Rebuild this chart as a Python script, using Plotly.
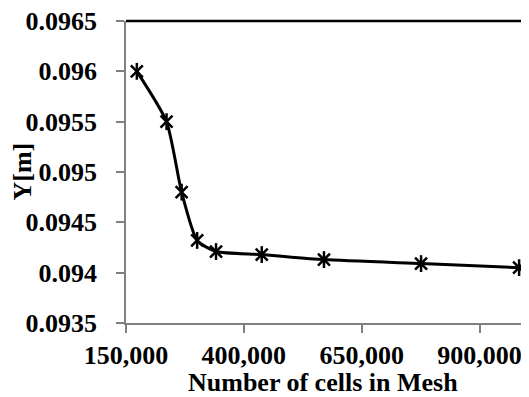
import plotly.graph_objects as go

cells = [173000, 236000, 268000, 301000, 341000, 438000, 570000, 776000, 984000]
y_vals = [0.0960, 0.0955, 0.0948, 0.09432, 0.09421, 0.09418, 0.09413, 0.09409, 0.09405]

x_ticks = [150000, 400000, 650000, 900000]
x_tick_labels = ["150,000", "400,000", "650,000", "900,000"]
y_ticks = [0.0935, 0.094, 0.0945, 0.095, 0.0955, 0.096, 0.0965]
y_tick_labels = ["0.0935", "0.094", "0.0945", "0.095", "0.0955", "0.096", "0.0965"]
x_title = "Number of cells in Mesh"
y_title = "Y[m]"

FS = 26
tfont = dict(family="Liberation Serif", size=FS, color="black", weight="bold")

fig = go.Figure()
fig.add_trace(go.Scatter(
    x=cells, y=y_vals, mode="lines",
    line=dict(color="black", width=3, shape="spline", smoothing=0.6),
    cliponaxis=False, showlegend=False,
))
fig.add_trace(go.Scatter(
    x=cells, y=y_vals, mode="markers",
    marker=dict(symbol="x-thin-open", size=12, color="black", line=dict(width=2.5, color="black")),
    cliponaxis=False, showlegend=False,
))
fig.add_trace(go.Scatter(
    x=cells, y=y_vals, mode="markers",
    marker=dict(symbol="line-ns-open", size=12, color="black", line=dict(width=2.5, color="black")),
    cliponaxis=False, showlegend=False,
))

fig.update_layout(
    width=521, height=389,
    margin=dict(l=118, r=0, t=13, b=74),
    paper_bgcolor="white", plot_bgcolor="white",
    font=tfont,
    xaxis=dict(
        range=[150000, 1005000], tickvals=x_ticks, ticktext=x_tick_labels,
        showgrid=False, zeroline=False, showline=True, linecolor="#808080", linewidth=1.5,
        ticks="outside", ticklen=8, tickcolor="#808080", tickwidth=1.5,
        tickfont=tfont, ticklabelstandoff=0, ticklabeloverflow="allow",
    ),
    yaxis=dict(
        range=[0.0935, 0.0965], tickvals=y_ticks, ticktext=y_tick_labels,
        showgrid=False, zeroline=False, showline=True, linecolor="#808080", linewidth=1.5,
        ticks="outside", ticklen=8, tickcolor="#808080", tickwidth=1.5,
        tickfont=tfont, ticklabelstandoff=14, ticklabeloverflow="allow",
    ),
)
fig.add_shape(type="line", xref="paper", yref="paper", x0=0, x1=1, y0=1, y1=1,
              line=dict(color="black", width=2.5))
fig.add_annotation(text=x_title, xref="paper", yref="paper", x=0.49, y=0,
                   xanchor="center", yanchor="top", yshift=-44, showarrow=False,
                   font=tfont, borderpad=0)
fig.add_annotation(text=y_title, xref="paper", yref="paper", x=0, y=0.5,
                   xanchor="right", yanchor="middle", xshift=-89, showarrow=False,
                   textangle=-90, font=tfont, borderpad=0)

fig.write_html("out.html")
